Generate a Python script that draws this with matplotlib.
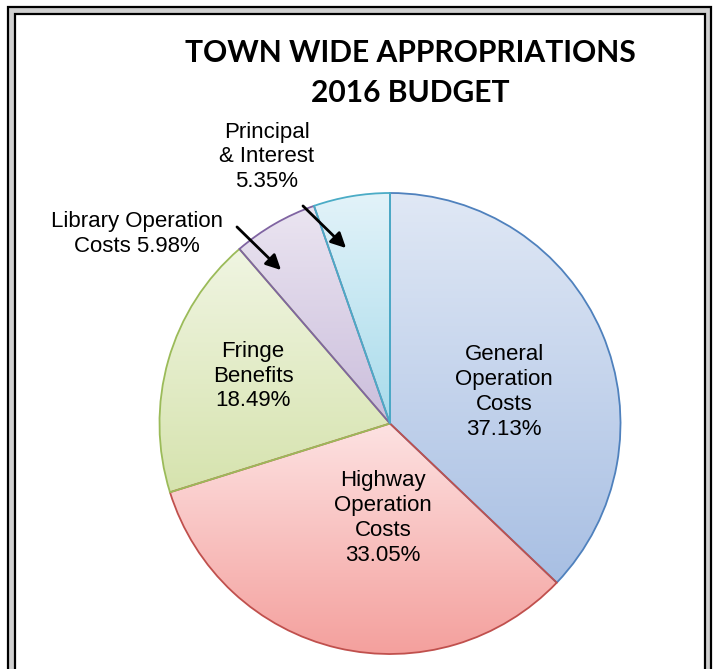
import numpy as np
import matplotlib
matplotlib.use("Agg")
import matplotlib.pyplot as plt
from matplotlib.colors import LinearSegmentedColormap
from matplotlib.patches import Rectangle

# budget shares, clockwise from 12 o'clock
labels = ["General\nOperation\nCosts\n37.13%",
          "Highway\nOperation\nCosts\n33.05%",
          "Fringe\nBenefits\n18.49%",
          "Library Operation\nCosts 5.98%",
          "Principal\n& Interest\n5.35%"]
shares = [37.13, 33.05, 18.49, 5.98, 5.35]

# gradient top / bottom and edge colours
tops = ["#e0e8f5", "#fde2e2", "#f0f5e2", "#ebe5f1", "#e3f3f9"]
bottoms = ["#a8bfe3", "#f4a09d", "#d6e3ae", "#cbbedc", "#a8dbeb"]
edges = ["#4f81bd", "#c0504d", "#9bbb59", "#8064a2", "#4bacc6"]

W, H = 713, 669
fig = plt.figure(figsize=(W / 100, H / 100), dpi=100)
ax = fig.add_axes([0, 0, 1, 1])

cx, cy, r = 390, H - 423.5, 230.5
wedges, _ = ax.pie(shares, center=(cx, cy), radius=r, startangle=90,
                   counterclock=False, frame=True,
                   wedgeprops=dict(facecolor="none", linewidth=1.3, zorder=3))

grad = np.linspace(0, 1, 256).reshape(-1, 1)
for w, t, b, e in zip(wedges, tops, bottoms, edges):
    w.set_edgecolor(e)
    w.set_facecolor("none")
    bb = w.get_path().get_extents()
    cmap = LinearSegmentedColormap.from_list("g", [t, b])
    im = ax.imshow(grad, cmap=cmap, extent=(bb.x0, bb.x1, bb.y0, bb.y1),
                   origin="upper", aspect="auto", zorder=2, interpolation="bilinear")
    im.set_clip_path(w)

txt = dict(family="Liberation Sans", fontsize=16, ha="center", va="center",
           linespacing=1.24, color="black", zorder=5)
ax.text(504, H - 392, labels[0], **txt)
ax.text(383, H - 518, labels[1], **txt)
ax.text(253, H - 376, labels[2], **txt)
ax.text(137, H - 234, labels[3], **txt)
ax.text(267, H - 157, labels[4], **txt)

arrow = dict(arrowstyle="-|>,head_length=0.9,head_width=0.45", color="black", lw=2)
ax.annotate("", xy=(348, H - 250), xytext=(301, H - 204), arrowprops=arrow, zorder=6)
ax.annotate("", xy=(283, H - 272), xytext=(235, H - 225), arrowprops=arrow, zorder=6)

ax.text(410, H - 73, "TOWN WIDE APPROPRIATIONS\n2016 BUDGET", family="Lato",
        fontweight="bold", fontsize=21.6, ha="center", va="center", linespacing=1.5)

# double frame around the page
ax.add_patch(Rectangle((8, -20), 703, H - 7 + 20, facecolor="#d0d0d0",
                       edgecolor="black", lw=1.6, zorder=0))
ax.add_patch(Rectangle((15, -20), 690, H - 14 + 20, facecolor="white",
                       edgecolor="black", lw=1.6, zorder=1))

ax.set_xlim(0, W)
ax.set_ylim(0, H)
ax.set_aspect("equal")
ax.axis("off")

fig.savefig("out.png", dpi=100)
